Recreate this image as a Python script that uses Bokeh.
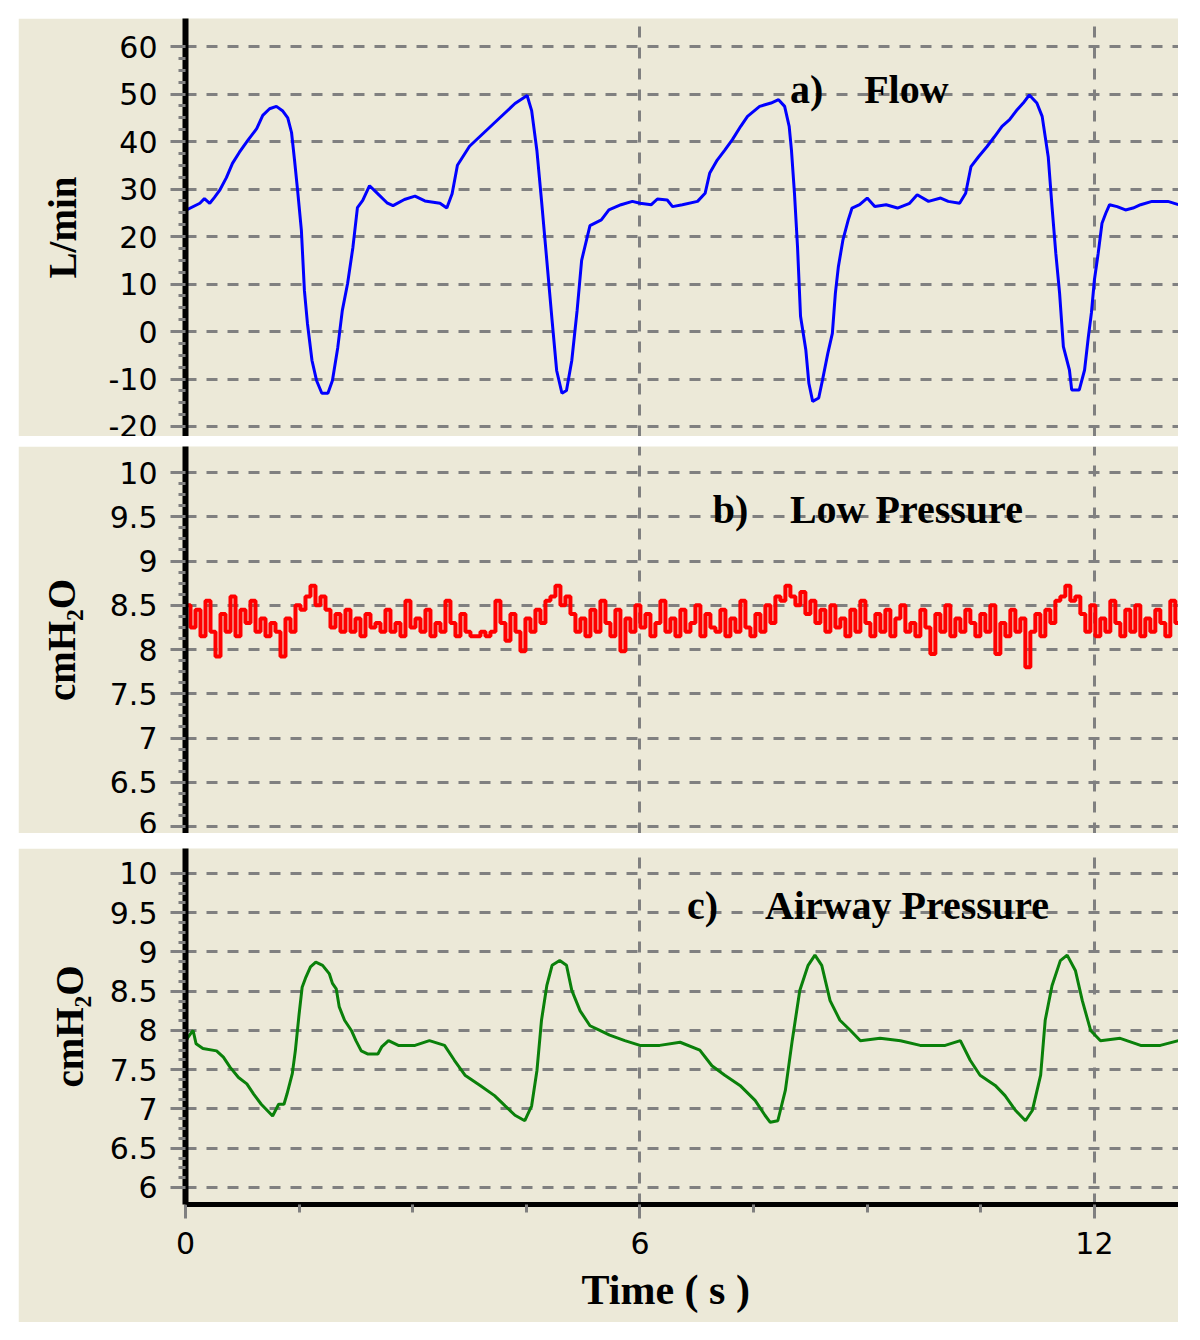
import numpy as np
from bokeh.plotting import figure
from bokeh.layouts import column, row
from bokeh.models import FixedTicker, NumeralTickFormatter, Label, Spacer, Range1d, Title
from bokeh.embed import file_html
from bokeh.resources import INLINE

# ---------------- data ----------------
flow_t = [0.0, 0.19, 0.25, 0.32, 0.38, 0.45, 0.54, 0.62, 0.71, 0.82, 0.94, 1.02, 1.11, 1.2, 1.28,
          1.35, 1.4, 1.44, 1.48, 1.53, 1.57, 1.61, 1.67, 1.73, 1.8, 1.88, 1.94, 2.01, 2.07, 2.14,
          2.21, 2.27, 2.34, 2.43, 2.52, 2.66, 2.74, 2.89, 3.03, 3.16, 3.36, 3.45, 3.52, 3.59, 3.75,
          3.95, 4.15, 4.35, 4.51, 4.57, 4.64, 4.7, 4.77, 4.84, 4.9, 4.97, 5.03, 5.1, 5.17, 5.23,
          5.34, 5.49, 5.59, 5.75, 5.9, 6.0, 6.15, 6.23, 6.36, 6.43, 6.56, 6.76, 6.86, 6.92, 7.02,
          7.12, 7.22, 7.33, 7.42, 7.58, 7.73, 7.83, 7.91, 7.97, 8.0, 8.04, 8.08, 8.12, 8.19, 8.23,
          8.28, 8.36, 8.41, 8.48, 8.54, 8.58, 8.62, 8.68, 8.75, 8.8, 8.9, 9.0, 9.1, 9.25, 9.4,
          9.56, 9.66, 9.81, 9.97, 10.07, 10.22, 10.3, 10.37, 10.47, 10.58, 10.68, 10.78, 10.88, 10.98, 11.06,
          11.14, 11.24, 11.31, 11.39, 11.44, 11.49, 11.54, 11.59, 11.67, 11.7, 11.8, 11.87, 11.92, 11.96, 12.0,
          12.05, 12.1, 12.15, 12.2, 12.3, 12.41, 12.51, 12.61, 12.76, 12.97, 13.11]
flow_v = [25.5, 27.0, 28.0, 27.0, 28.2, 29.7, 32.4, 35.4, 37.7, 40.2, 42.7, 45.5, 46.9, 47.4, 46.5,
          45.0, 41.9, 36.0, 29.7, 21.3, 8.6, 1.7, -6.1, -10.3, -13.0, -13.0, -10.3, -3.4, 4.4, 10.1,
          17.7, 26.1, 27.6, 30.7, 29.3, 27.1, 26.5, 27.8, 28.5, 27.5, 27.0, 26.0, 29.0, 35.0, 39.0,
          42.0, 45.0, 48.0, 49.7, 46.5, 38.0, 27.6, 15.0, 2.3, -8.2, -13.0, -12.4, -6.1, 4.4, 15.0,
          22.3, 23.5, 25.6, 26.7, 27.4, 27.0, 26.7, 27.9, 27.7, 26.3, 26.7, 27.4, 29.1, 33.3, 36.1,
          38.2, 40.4, 43.2, 45.3, 47.4, 48.1, 48.8, 47.4, 43.2, 38.2, 29.1, 17.9, 3.2, -3.9, -10.9,
          -14.7, -14.0, -10.2, -4.6, -0.4, 8.1, 13.7, 19.3, 23.5, 26.0, 26.7, 28.1, 26.3, 26.7, 26.0,
          27.0, 28.8, 27.4, 28.1, 27.4, 27.0, 29.1, 34.7, 36.8, 38.9, 41.0, 43.2, 44.6, 46.7, 48.1,
          49.8, 48.1, 45.3, 36.8, 26.3, 16.5, 8.1, -3.2, -8.1, -12.3, -12.3, -8.1, -1.1, 3.9, 10.9,
          16.5, 22.8, 24.9, 26.7, 26.3, 25.6, 26.0, 26.7, 27.4, 27.4, 26.7]

low_dt = 0.066
low_v = [8.5, 8.25, 8.45, 8.15, 8.55, 8.2, 7.92, 8.4, 8.2, 8.6, 8.15, 8.45, 8.3, 8.55, 8.2, 8.35, 8.15, 8.3, 8.2, 7.92,
         8.35, 8.2, 8.5, 8.45, 8.6, 8.72, 8.5, 8.6, 8.45, 8.25, 8.4, 8.2, 8.45, 8.2, 8.35, 8.15, 8.4, 8.25, 8.3, 8.2,
         8.45, 8.2, 8.3, 8.15, 8.55, 8.25, 8.35, 8.2, 8.45, 8.15, 8.3, 8.2, 8.55, 8.3, 8.15, 8.4, 8.2, 8.15, 8.15, 8.2,
         8.15, 8.2, 8.55, 8.3, 8.1, 8.4, 8.2, 7.98, 8.35, 8.2, 8.45, 8.3, 8.55, 8.6, 8.72, 8.5, 8.6, 8.4, 8.2, 8.35,
         8.15, 8.45, 8.2, 8.55, 8.3, 8.15, 8.45, 7.98, 8.35, 8.2, 8.5, 8.25, 8.4, 8.15, 8.3, 8.55, 8.2, 8.35, 8.15, 8.45,
         8.2, 8.3, 8.5, 8.15, 8.4, 8.25, 8.2, 8.45, 8.15, 8.35, 8.2, 8.55, 8.25, 8.15, 8.4, 8.2, 8.5, 8.3, 8.6, 8.55,
         8.72, 8.6, 8.5, 8.65, 8.4, 8.55, 8.3, 8.45, 8.2, 8.5, 8.25, 8.35, 8.15, 8.45, 8.2, 8.55, 8.3, 8.15, 8.4, 8.2,
         8.45, 8.15, 8.35, 8.5, 8.2, 8.3, 8.15, 8.45, 8.25, 7.95, 8.4, 8.2, 8.5, 8.15, 8.35, 8.2, 8.45, 8.3, 8.15, 8.4,
         8.2, 8.5, 7.95, 8.3, 8.15, 8.45, 8.2, 8.35, 7.8, 8.2, 8.4, 8.15, 8.45, 8.3, 8.55, 8.6, 8.72, 8.55, 8.6, 8.4,
         8.2, 8.5, 8.15, 8.35, 8.2, 8.55, 8.3, 8.15, 8.45, 8.2, 8.5, 8.15, 8.35, 8.2, 8.45, 8.3, 8.15, 8.55, 8.3, 8.25]

air_t = [0.0, 0.03, 0.1, 0.14, 0.23, 0.41, 0.5, 0.59, 0.7, 0.81, 0.9, 1.0, 1.08, 1.15, 1.23,
         1.3, 1.34, 1.41, 1.45, 1.5, 1.54, 1.59, 1.65, 1.72, 1.81, 1.9, 1.94, 1.99, 2.03, 2.1,
         2.19, 2.25, 2.32, 2.41, 2.54, 2.59, 2.68, 2.81, 3.03, 3.22, 3.42, 3.55, 3.69, 3.89, 4.08,
         4.22, 4.35, 4.48, 4.57, 4.64, 4.7, 4.77, 4.84, 4.94, 5.03, 5.1, 5.21, 5.34, 5.47, 5.6,
         5.8, 6.0, 6.26, 6.53, 6.79, 6.95, 7.12, 7.32, 7.52, 7.65, 7.72, 7.82, 7.92, 8.01, 8.11,
         8.22, 8.31, 8.4, 8.51, 8.64, 8.78, 8.91, 9.17, 9.44, 9.7, 10.03, 10.23, 10.36, 10.49, 10.69,
         10.82, 10.96, 11.09, 11.18, 11.29, 11.35, 11.44, 11.55, 11.64, 11.75, 11.84, 11.95, 12.08, 12.34, 12.61,
         12.87, 13.11]
air_v = [7.85, 7.91, 8.0, 7.83, 7.77, 7.74, 7.66, 7.53, 7.4, 7.32, 7.19, 7.06, 6.98, 6.91, 7.06,
         7.06, 7.19, 7.45, 7.74, 8.21, 8.55, 8.68, 8.81, 8.87, 8.83, 8.72, 8.6, 8.53, 8.3, 8.13,
         8.0, 7.87, 7.74, 7.7, 7.7, 7.79, 7.87, 7.81, 7.81, 7.87, 7.81, 7.62, 7.43, 7.3, 7.17,
         7.04, 6.92, 6.85, 7.04, 7.49, 8.13, 8.57, 8.83, 8.89, 8.83, 8.51, 8.25, 8.06, 8.0, 7.94,
         7.87, 7.81, 7.81, 7.85, 7.75, 7.55, 7.43, 7.3, 7.11, 6.92, 6.83, 6.85, 7.24, 7.87, 8.51,
         8.83, 8.96, 8.83, 8.38, 8.13, 8.0, 7.87, 7.9, 7.87, 7.81, 7.81, 7.87, 7.62, 7.43, 7.3,
         7.17, 6.98, 6.85, 6.98, 7.43, 8.13, 8.57, 8.89, 8.96, 8.76, 8.38, 8.0, 7.87, 7.9, 7.81,
         7.81, 7.87]

flow_ticks = [-20, -10, 0, 10, 20, 30, 40, 50, 60]
pres_ticks = [6, 6.5, 7, 7.5, 8, 8.5, 9, 9.5, 10]
time_ticks = [0, 6, 12]
time_minor = [1.5, 3, 4.5, 7.5, 9, 10.5]

# ---------------- styling ----------------
BG = "#ECE9D8"
GRID = "#808080"
TICK_FONT = "DejaVu Sans"
SERIF = "Liberation Serif"
X_END = 13.11


def minor_of(ticks, n=4):
    out = []
    for a, b in zip(ticks[:-1], ticks[1:]):
        step = (b - a) / n
        out += [a + k * step for k in range(1, n)]
    return out


def make_fig(height, y0, y1, ticks, fmt, ylabel, ylabel_standoff, bottom_border, show_x):
    p = figure(width=1160, height=height, x_range=Range1d(0, X_END), y_range=Range1d(y0, y1),
               output_backend="svg", toolbar_location=None,
               min_border_left=167, min_border_right=0, min_border_top=0,
               min_border_bottom=bottom_border)
    p.background_fill_color = BG
    p.border_fill_color = BG
    p.outline_line_color = None

    p.yaxis.ticker = FixedTicker(ticks=ticks, minor_ticks=minor_of(ticks))
    p.ygrid.ticker = FixedTicker(ticks=ticks)
    p.yaxis.formatter = NumeralTickFormatter(format=fmt)
    p.yaxis.axis_line_color = "black"
    p.yaxis.axis_line_width = 6
    p.yaxis.major_tick_line_color = GRID
    p.yaxis.major_tick_line_width = 3
    p.yaxis.major_tick_out = 15
    p.yaxis.major_tick_in = 0
    p.yaxis.minor_tick_line_color = GRID
    p.yaxis.minor_tick_line_width = 3
    p.yaxis.minor_tick_out = 7
    p.yaxis.minor_tick_in = 0
    p.yaxis.major_label_text_font = TICK_FONT
    p.yaxis.major_label_text_font_size = "30px"
    p.yaxis.major_label_text_color = "black"
    p.yaxis.major_label_standoff = 13
    p.yaxis.axis_label = ylabel
    p.yaxis.axis_label_text_font = SERIF
    p.yaxis.axis_label_text_font_style = "bold"
    p.yaxis.axis_label_text_font_size = "39px"
    p.yaxis.axis_label_text_color = "black"
    p.yaxis.axis_label_standoff = ylabel_standoff

    p.xaxis.ticker = FixedTicker(ticks=time_ticks, minor_ticks=time_minor)
    p.xgrid.ticker = FixedTicker(ticks=[t for t in time_ticks if t > 0])
    for g in (p.xgrid, p.ygrid):
        g.grid_line_color = GRID
        g.grid_line_width = 3
        g.grid_line_dash = "11 10"

    if show_x:
        p.xaxis.axis_line_color = "black"
        p.xaxis.axis_line_width = 5
        p.xaxis.major_tick_line_color = GRID
        p.xaxis.major_tick_line_width = 3
        p.xaxis.major_tick_out = 14
        p.xaxis.major_tick_in = 0
        p.xaxis.minor_tick_line_color = GRID
        p.xaxis.minor_tick_line_width = 3
        p.xaxis.minor_tick_out = 8
        p.xaxis.minor_tick_in = 0
        p.xaxis.major_label_text_font = TICK_FONT
        p.xaxis.major_label_text_font_size = "30px"
        p.xaxis.major_label_text_color = "black"
        p.xaxis.major_label_standoff = 13
    else:
        p.xaxis.visible = False
    return p


def add_title(p, x1, x2, y, t1, t2):
    for x, t in ((x1, t1), (x2, t2)):
        p.add_layout(Label(x=x, y=y, text=t, text_font=SERIF, text_font_style="bold",
                           text_font_size="40px", text_color="black", text_baseline="middle"))


# a) Flow
pa = make_fig(418, -22.1, 65.9, flow_ticks, "0", "L/min", 22, 0, False)
pa.line(flow_t, flow_v, line_color="#0000FF", line_width=3)
add_title(pa, 7.98, 8.96, 50.9, "a)", "Flow")

# b) Low Pressure
low_t = [i * low_dt for i in range(len(low_v))]
pb = make_fig(387, 5.921, 10.294, pres_ticks, "0.[0]", "cmH\u2082O", 24, 0, False)
pb.step(low_t, low_v, mode="after", line_color="#FF0000", line_width=4)
add_title(pb, 6.96, 7.98, 9.58, "b)", "Low Pressure")

# c) Airway Pressure
pc = make_fig(474, 5.783, 10.318, pres_ticks, "0.[0]", "cmH\u2082O", 16, 118, True)
pc.line(air_t, air_v, line_color="#0A800A", line_width=3)
add_title(pc, 6.62, 7.65, 9.59, "c)", "Airway Pressure")
pc.add_layout(Title(text="Time ( s )", align="left", offset=396, standoff=17,
                    text_font=SERIF, text_font_style="bold", text_font_size="42px",
                    text_color="black"), "below")

layout = column(
    Spacer(height=18),
    row(Spacer(width=18),
        column(pa, Spacer(height=10), pb, Spacer(height=15), pc)),
)

open("out.html", "w").write(file_html(layout, INLINE))
